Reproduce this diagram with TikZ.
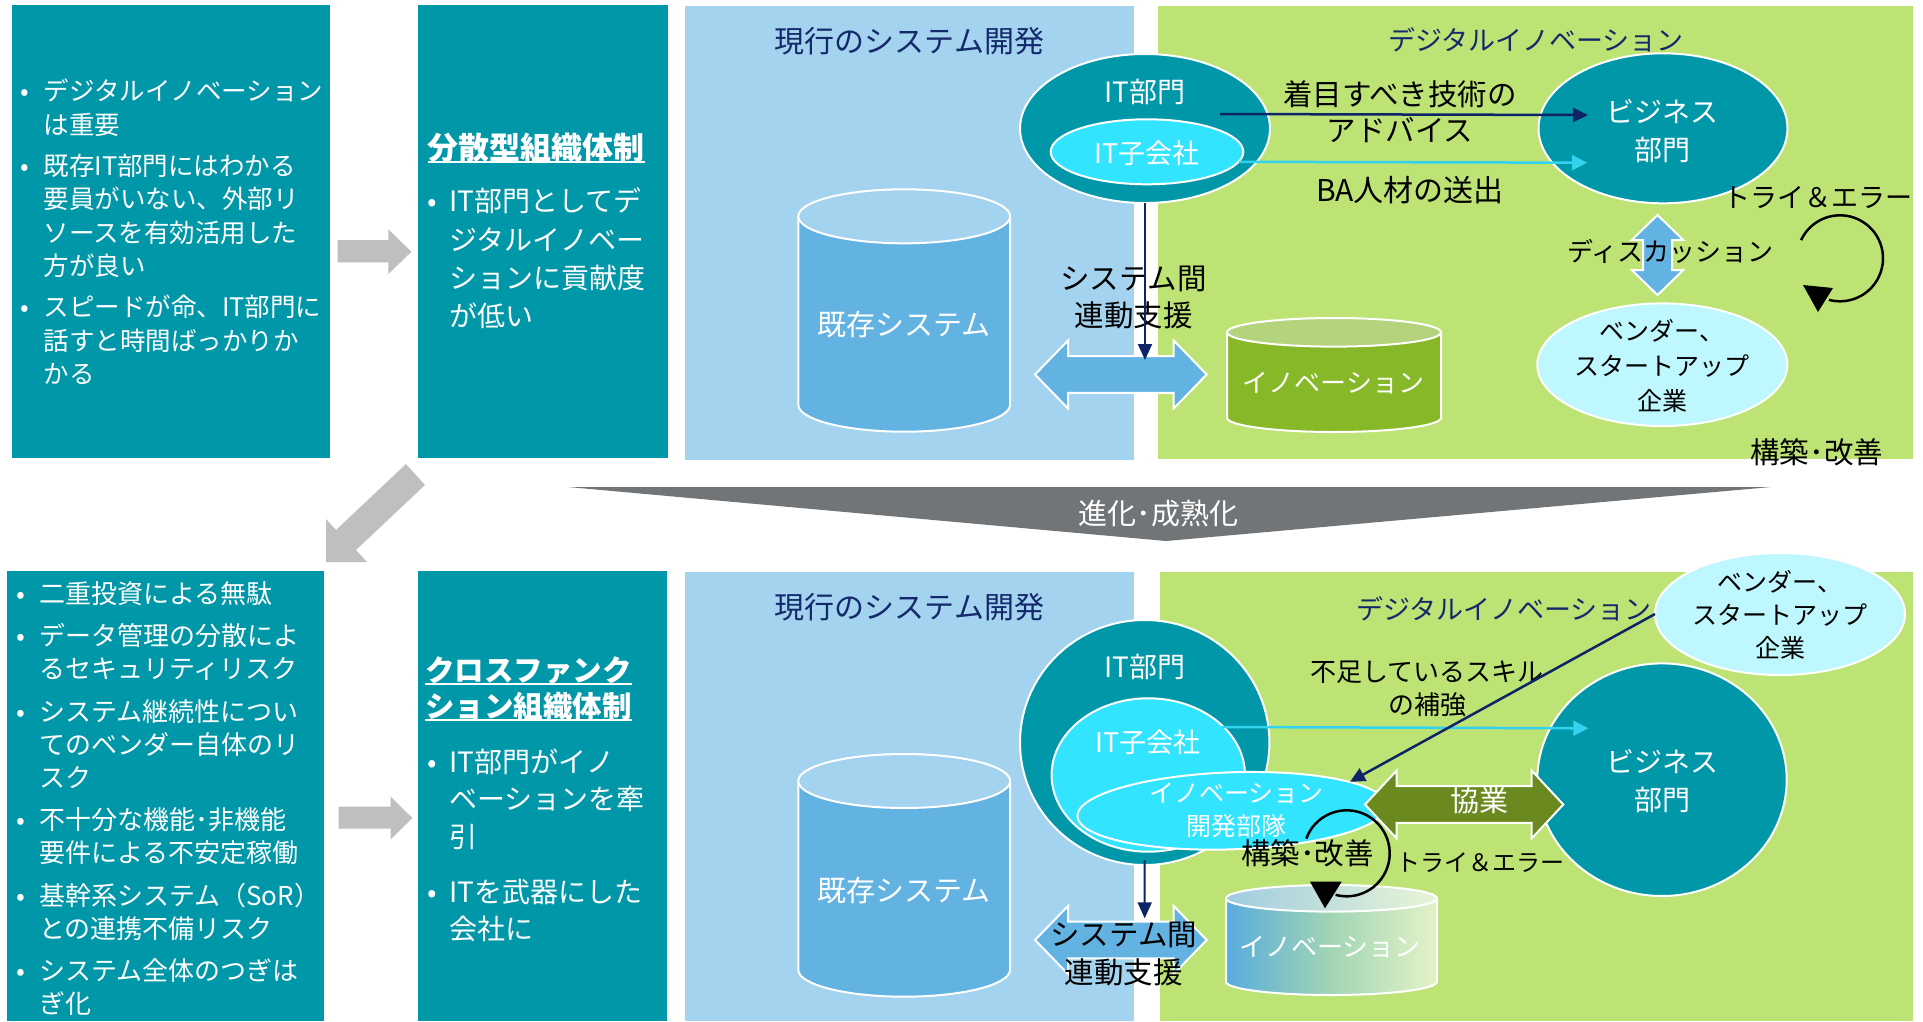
\documentclass[tikz,border=0pt]{standalone}
\usepackage{fontspec}
\setmainfont{Noto Sans CJK JP}
\usetikzlibrary{arrows.meta,shapes.geometric,calc}
\definecolor{tealc}{HTML}{0097A8}
\definecolor{panelb}{HTML}{A3D3EE}
\definecolor{panelg}{HTML}{BDE374}
\definecolor{cylb}{HTML}{63B3E2}
\definecolor{cyanc}{HTML}{33E4FF}
\definecolor{vendc}{HTML}{BEF7FD}
\definecolor{navyc}{HTML}{0D2466}
\definecolor{titlec}{HTML}{14296B}
\definecolor{cyanl}{HTML}{33D3F0}
\definecolor{olivec}{HTML}{6A8A1F}
\definecolor{greenb}{HTML}{86B827}
\definecolor{greent}{HTML}{B3D47C}
\definecolor{grayar}{HTML}{BFBFBF}
\definecolor{funnelc}{HTML}{717578}
\definecolor{gradL}{HTML}{58ACDD}
\definecolor{gradM}{HTML}{A2D5B4}
\definecolor{gradR}{HTML}{E4F3C8}
\definecolor{gtopL}{HTML}{A0CCE0}
\definecolor{gtopR}{HTML}{E8F5D6}
\newcommand{\fsz}[2]{\fontsize{#1pt}{#2pt}\selectfont}
\newsavebox{\ulsave}
\newcommand{\ulx}[1]{\sbox\ulsave{#1}\rlap{\rule[-4pt]{\wd\ulsave}{2pt}}\usebox\ulsave}
\newcommand{\bl}[1]{\makebox[#1][l]{•}}
\newcommand{\ind}[1]{\hspace*{#1}}
\begin{document}
\begin{tikzpicture}[x=1pt,y=1pt,
  box/.style={fill=tealc, draw=none, inner sep=0pt, outer sep=0pt, anchor=north west},
  pan/.style={draw=none, inner sep=0pt, outer sep=0pt, anchor=north west},
  ell/.style={ellipse, draw=white, line width=2pt, inner sep=0pt, outer sep=0pt},
  wtxt/.style={text=white, inner sep=0pt},
  btxt/.style={text=black, inner sep=0pt},
  ttl/.style={text=titlec, inner sep=0pt},
  navyarr/.style={draw=navyc, line width=2.5pt, -{Triangle[length=15pt,width=14pt]}},
  vnavy/.style={draw=navyc, line width=2pt, -{Triangle[length=16pt,width=14pt]}},
  cyanarr/.style={draw=cyanl, line width=2.5pt, -{Triangle[length=15pt,width=15pt]}},
  dbl/.style={fill=cylb, draw=white, line width=2pt},
  cyl/.style={draw=white, line width=2pt},
  loopc/.style={draw=black, line width=2.5pt}
]
\useasboundingbox (0,0) rectangle (1923,-1021);
\fill[white] (0,0) rectangle (1923,-1021);

% ---------- boxes and panels ----------
\node[box, minimum width=318pt, minimum height=453pt] (boxA) at (12,-5) {};
\node[box, minimum width=250pt, minimum height=453pt] (boxB) at (418,-5) {};
\node[pan, fill=panelb, minimum width=449pt, minimum height=454pt] (panA) at (685,-6) {};
\node[pan, fill=panelg, minimum width=755pt, minimum height=453pt] (panB) at (1158,-6) {};
\node[box, minimum width=317pt, minimum height=450pt] (boxC) at (7,-571) {};
\node[box, minimum width=249.5pt, minimum height=450pt] (boxD) at (417.5,-571) {};
\node[pan, fill=panelb, minimum width=449pt, minimum height=449pt] (panC) at (685,-572) {};
\node[pan, fill=panelg, minimum width=753pt, minimum height=449pt] (panD) at (1160,-572) {};

% ---------- gray arrows and funnel ----------
\fill[grayar] (337.7,-240) -- (388.4,-240) -- (388.4,-229.3) -- (411.4,-251.7) -- (388.4,-274) -- (388.4,-262.3) -- (337.7,-262.3) -- cycle;
\fill[grayar] (338.5,-806.5) -- (390.6,-806.5) -- (390.6,-796.5) -- (412.3,-818) -- (390.6,-839.5) -- (390.6,-828.7) -- (338.5,-828.7) -- cycle;
\fill[grayar] (406,-464) -- (336,-530) -- (326,-519) -- (326,-562) -- (367,-562) -- (356,-550) -- (425,-485) -- cycle;
\fill[funnelc] (568,-487) -- (1771,-487) -- (1166,-541) -- cycle;
\node[wtxt, font=\fsz{29}{34}] (fun) at (1158.6,-513.3) {進化･成熟化};

% ---------- cylinders ----------
\filldraw[cyl, fill=cylb] (798.3,-216.3) -- (798.3,-404.7) arc[start angle=180, end angle=360, x radius=105.9, y radius=27] -- (1010.1,-216.3);
\filldraw[cyl, fill=panelb] (904.2,-216.3) ellipse [x radius=105.9, y radius=27];
\filldraw[cyl, fill=cylb] (798.3,-781) -- (798.3,-969.7) arc[start angle=180, end angle=360, x radius=105.9, y radius=27] -- (1010.1,-781);
\filldraw[cyl, fill=panelb] (904.2,-781) ellipse [x radius=105.9, y radius=27];
\filldraw[cyl, fill=greenb] (1227,-332.3) -- (1227,-417.7) arc[start angle=180, end angle=360, x radius=107, y radius=14.3] -- (1441,-332.3);
\filldraw[cyl, fill=greent] (1334,-332.3) ellipse [x radius=107, y radius=14.3];
\shade[left color=gradL, right color=gradR, middle color=gradM] (1226,-898.3) -- (1226,-981.7) arc[start angle=180, end angle=360, x radius=105.5, y radius=13.3] -- (1437,-898.3) -- cycle;
\draw[cyl] (1226,-898.3) -- (1226,-981.7) arc[start angle=180, end angle=360, x radius=105.5, y radius=13.3] -- (1437,-898.3);
\shade[left color=gtopL, right color=gtopR] (1331.5,-898.3) ellipse [x radius=105.5, y radius=13.3];
\draw[cyl] (1331.5,-898.3) ellipse [x radius=105.5, y radius=13.3];

% ---------- double arrows ----------
\coordinate (sysA) at (1120.85,-374.5);
\filldraw[dbl] (1035,-374.5) -- (1068,-340.5) -- (1068,-356.2) -- (1173.7,-356.2) -- (1173.7,-340.5) -- (1206.7,-374.5) -- (1173.7,-408.5) -- (1173.7,-392.8) -- (1068,-392.8) -- (1068,-408.5) -- cycle;
\coordinate (sysB) at (1120.85,-940);
\filldraw[dbl] (1035,-940) -- (1068,-906) -- (1068,-921.7) -- (1173.7,-921.7) -- (1173.7,-906) -- (1206.7,-940) -- (1173.7,-974) -- (1173.7,-958.3) -- (1068,-958.3) -- (1068,-974) -- cycle;
\coordinate (disc) at (1657.5,-255);
\filldraw[dbl] (1657.5,-215) -- (1683.3,-240) -- (1672,-240) -- (1672,-270) -- (1683.3,-270) -- (1657.5,-295) -- (1631.7,-270) -- (1643,-270) -- (1643,-240) -- (1631.7,-240) -- cycle;

% ---------- ellipses ----------
\node[ell, fill=tealc, minimum width=250pt, minimum height=149pt] (itd1) at (1145,-128.5) {};
\node[ell, fill=cyanc, minimum width=192.6pt, minimum height=65pt] (its1) at (1147,-151.8) {};
\node[ell, fill=tealc, minimum width=249pt, minimum height=150pt] (bus1) at (1663,-128.3) {};
\node[ell, fill=vendc, minimum width=250pt, minimum height=122.6pt] (ven1) at (1662.3,-364.7) {};
\node[ell, fill=tealc, minimum width=249.4pt, minimum height=245pt] (itd2) at (1144.7,-742.5) {};
\node[ell, fill=cyanc, minimum width=193.4pt, minimum height=153.4pt] (its2) at (1148.3,-775) {};
\node[ell, fill=cyanc, minimum width=309.4pt, minimum height=77pt, rotate=2] (inno) at (1232,-810.8) {};
\node[ell, fill=tealc, minimum width=249.4pt, minimum height=232.6pt] (bus2) at (1662,-779.7) {};
\node[ell, fill=vendc, minimum width=250pt, minimum height=122pt] (ven2) at (1780,-614) {};

\coordinate (kyo) at (1464,-804.5);
\filldraw[dbl, fill=olivec] (1365,-804.5) -- (1396.7,-770.5) -- (1396.7,-786.2) -- (1531.6,-786.2) -- (1531.6,-770.5) -- (1563.3,-804.5) -- (1531.6,-838.5) -- (1531.6,-822.8) -- (1396.7,-822.8) -- (1396.7,-838.5) -- cycle;

% ---------- texts in boxes ----------
\node[wtxt, align=left, anchor=north west, font=\fsz{25.5}{33.5}] (ta) at (20,-79) {%
\bl{23.4pt}デジタルイノベーション\\%
\ind{23.4pt}は重要\\[7.5pt]%
\bl{23.4pt}既存IT部門にはわかる\\%
\ind{23.4pt}要員がいない、外部リ\\%
\ind{23.4pt}ソースを有効活用した\\%
\ind{23.4pt}方が良い\\[7.5pt]%
\bl{23.4pt}スピードが命、IT部門に\\%
\ind{23.4pt}話すと時間ばっかりか\\%
\ind{23.4pt}かる};
\node[wtxt, anchor=north west, font=\bfseries\fsz{31}{36}] (tb0) at (427.5,-132.5) {\ulx{分散型組織体制}};
\node[wtxt, align=left, anchor=north west, font=\fsz{28}{38.3}] (tb) at (427,-187.7) {%
\bl{22pt}IT部門としてデ\\%
\ind{22pt}ジタルイノベー\\%
\ind{22pt}ションに貢献度\\%
\ind{22pt}が低い};
\node[wtxt, align=left, anchor=north west, font=\fsz{26}{33}] (tc) at (16,-581) {%
\bl{23pt}二重投資による無駄\\[9.5pt]%
\bl{23pt}データ管理の分散によ\\%
\ind{23pt}るセキュリティリスク\\[9.5pt]%
\bl{23pt}システム継続性につい\\%
\ind{23pt}てのベンダー自体のリ\\%
\ind{23pt}スク\\[9.5pt]%
\bl{23pt}不十分な機能･非機能\\%
\ind{23pt}要件による不安定稼働\\[9.5pt]%
\bl{23pt}基幹系システム（SoR）\\%
\ind{23pt}との連携不備リスク\\[9.5pt]%
\bl{23pt}システム全体のつぎは\\%
\ind{23pt}ぎ化};
\node[wtxt, align=left, anchor=north west, font=\bfseries\fsz{29.5}{36}] (td0) at (425,-656.25) {\ulx{クロスファンク}\\\ulx{ション組織体制}};
\node[wtxt, align=left, anchor=north west, font=\fsz{28}{37.5}] (td) at (427,-748.5) {%
\bl{22pt}IT部門がイノ\\%
\ind{22pt}ベーションを牽\\%
\ind{22pt}引\\[17.5pt]%
\bl{22pt}ITを武器にした\\%
\ind{22pt}会社に};

% ---------- texts top diagram ----------
\node[ttl, font=\fsz{30}{36}] (t1) at (909.5,-41.5) {現行のシステム開発};
\node[ttl, font=\fsz{27}{34}] (t2) at (1536,-40) {デジタルイノベーション};
\node[wtxt, font=\fsz{28}{34}] (l1) at (1145,-92) {IT部門};
\node[wtxt, font=\fsz{27}{34}] (l2) at (1147,-153) {IT子会社};
\node[wtxt, align=center, font=\fsz{28}{38.3}] (l3) at (1662,-131) {ビジネス\\部門};
\node[btxt, align=center, font=\fsz{29.5}{36}] (l4) at (1400,-112) {着目すべき技術の\\アドバイス};
\node[btxt, font=\fsz{30}{36}] (l5) at (1410,-190) {BA人材の送出};
\node[btxt, align=center, font=\fsz{29.5}{37.5}] (l6) at (1133.5,-297.3) {システム間\\連動支援};
\node[wtxt, font=\fsz{29}{34}] (l7) at (904,-325) {既存システム};
\node[wtxt, font=\fsz{26}{34}] (l8) at (1333.5,-383) {イノベーション};
\node[btxt, font=\fsz{26}{32}] (l9) at (1670.7,-251.7) {ディスカッション};
\node[btxt, align=center, font=\fsz{25}{35}] (l10) at (1662,-365.5) {ベンダー、\\スタートアップ\\企業};
\node[btxt, font=\fsz{27}{32}] (l11) at (1817.5,-197) {トライ＆エラー};
\node[btxt, font=\fsz{29.5}{32}] (l12) at (1816.7,-452) {構築･改善};

% ---------- texts bottom diagram ----------
\node[ttl, font=\fsz{30}{36}] (t3) at (909.5,-607) {現行のシステム開発};
\node[ttl, font=\fsz{27}{34}] (t4) at (1504,-609) {デジタルイノベーション};
\node[wtxt, font=\fsz{28}{34}] (m1) at (1145,-666.7) {IT部門};
\node[wtxt, font=\fsz{27}{34}] (m2) at (1148.3,-742.7) {IT子会社};
\node[wtxt, align=center, font=\fsz{25}{33.4}] (m3) at (1236.7,-810) {イノベーション\\開発部隊};
\node[wtxt, align=center, font=\fsz{28}{38.3}] (m4) at (1662,-781) {ビジネス\\部門};
\node[btxt, align=center, font=\fsz{26}{33}] (m5) at (1427,-688.5) {不足しているスキル\\の補強};
\node[wtxt, font=\fsz{29}{34}] (m6) at (1479,-800.5) {協業};
\node[btxt, align=center, font=\fsz{25}{33.3}] (m7) at (1780,-615) {ベンダー、\\スタートアップ\\企業};
\node[btxt, font=\fsz{29.5}{32}] (m8) at (1307.5,-853.3) {構築･改善};
\node[btxt, font=\fsz{24}{30}] (m9) at (1480,-862.5) {トライ＆エラー};
\node[btxt, align=center, font=\fsz{29.5}{38}] (m10) at (1123.7,-954.4) {システム間\\連動支援};
\node[wtxt, font=\fsz{29}{34}] (m11) at (904,-890) {既存システム};
\node[wtxt, font=\fsz{26}{34}] (m12) at (1330,-946.7) {イノベーション};

% ---------- connectors ----------
\draw[navyarr] ($(itd1.center)+(75,14.5)$) -- ($(bus1.center)+(-75,13.3)$);
\draw[cyanarr] ($(its1.center)+(92,-10)$) -- ($(bus1.center)+(-76,-34.4)$);
\draw[vnavy] (itd1.south) -- ($(sysA)+(24.15,14.5)$);
\draw[cyanarr] ($(its2.center)+(73.7,48)$) -- ($(bus2.center)+(-73.7,51.4)$);
\draw[navyarr] (ven2.west) -- ($(inno.center)+(118,29)$);
\draw[vnavy] ($(itd2.south)+(0,5)$) -- ($(sysB)+(23.85,21.7)$);

% ---------- circular arrows ----------
\coordinate (rc1) at (1840,-258.3);
\draw[loopc] ($(rc1)+(155:43)$) arc[start angle=155, end angle=-105, radius=43];
\fill[black] ($(rc1)+(-37,-26.7)$) -- ($(rc1)+(-7,-29.7)$) -- ($(rc1)+(-22,-53.7)$) -- cycle;
\coordinate (rc2) at (1346.7,-853.3);
\draw[loopc] ($(rc2)+(160:43)$) arc[start angle=160, end angle=-105, radius=43];
\fill[black] ($(rc2)+(-36.7,-28.4)$) -- ($(rc2)+(-5,-28.4)$) -- ($(rc2)+(-21.7,-55)$) -- cycle;
\end{tikzpicture}
\end{document}
